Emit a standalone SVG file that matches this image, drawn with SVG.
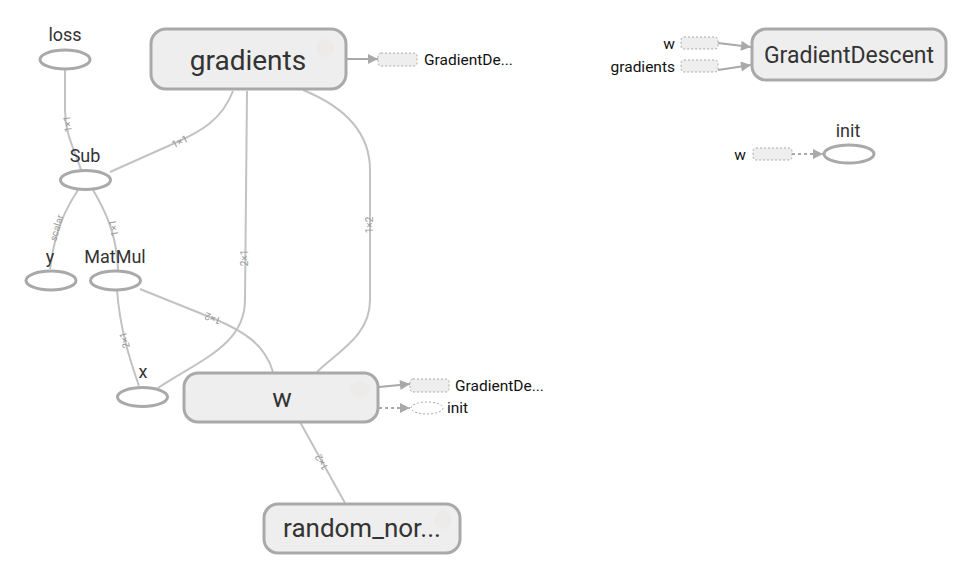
<svg xmlns="http://www.w3.org/2000/svg" width="967" height="575" viewBox="0 0 967 575">
<style>
.bg{fill:#fff}
.box{fill:#eeeeee;stroke:#a9a9a9;stroke-width:3}
.op{fill:#fff;stroke:#a9a9a9;stroke-width:3}
.ghost{fill:#e9e6e0;opacity:0.35}
.ann{fill:#eeeeee;stroke:#a9a9a9;stroke-width:1;stroke-dasharray:2,2}
.annop{fill:#fff;stroke:#a9a9a9;stroke-width:1;stroke-dasharray:2,2}
.edge{fill:none;stroke:#c2c2c2;stroke-width:2}
.aedge{fill:none;stroke:#a9a9a9;stroke-width:2}
.cedge{fill:none;stroke:#a9a9a9;stroke-width:2;stroke-dasharray:3,3}
.big{font-family:Roboto,"Liberation Sans",sans-serif;fill:#333;text-anchor:middle}
.lbl{font-family:Roboto,"Liberation Sans",sans-serif;fill:#333;font-size:18px;text-anchor:middle}
.sm{font-family:Roboto,"Liberation Sans",sans-serif;fill:#111;font-size:15.5px}
.el{font-family:Roboto,"Liberation Sans",sans-serif;fill:#999;font-size:10px;text-anchor:middle}
</style>
<defs>
<marker id="arr" viewBox="0 0 10 10" refX="10" refY="5" markerWidth="12" markerHeight="10" markerUnits="userSpaceOnUse" orient="auto">
<path d="M0,0 L10,5 L0,10 z" fill="#a9a9a9"/>
</marker>
</defs>
<rect class="bg" x="0" y="0" width="967" height="575"/>
<g id="connectors">
<path class="edge" d="M65,70 L65,110 C65,135 75,150 81,170"/>
<text class="el" transform="translate(68,124) rotate(-97)" dy="3">1×1</text>
<path class="edge" d="M233,91 C222,120 200,132 175,143 L110,172"/>
<text class="el" transform="translate(180,142) rotate(-25)" dy="3">1×1</text>
<path class="edge" d="M247,91 L245,300 C245,345 200,360 158,388"/>
<text class="el" transform="translate(245,258) rotate(-90)" dy="3">2×1</text>
<path class="edge" d="M303,90 C340,105 370,130 370,170 L370,300 C370,335 340,350 317,372"/>
<text class="el" transform="translate(370,225) rotate(-90)" dy="3">1×2</text>
<path class="edge" d="M78,190 C65,210 55,230 50,269"/>
<text class="el" transform="translate(57,228) rotate(-74)" dy="3">scalar</text>
<path class="edge" d="M93,190 C105,210 117,235 118,270"/>
<text class="el" transform="translate(114,228) rotate(-100)" dy="3">1×1</text>
<path class="edge" d="M117,290 C120,330 130,360 139,386"/>
<text class="el" transform="translate(125,340) rotate(-105)" dy="3">2×1</text>
<path class="edge" d="M140,289 L217,320 C245,332 265,345 273,372"/>
<text class="el" transform="translate(213,318) rotate(201)" dy="3">1×2</text>
<path class="edge" d="M300,422 L345,503"/>
<text class="el" transform="translate(322,462) rotate(-119)" dy="3">1×2</text>
<path class="aedge" d="M347,59 L378,59" marker-end="url(#arr)"/>
<path class="aedge" d="M379,387 L410,384" marker-end="url(#arr)"/>
<path class="cedge" d="M379,408 L410,408" marker-end="url(#arr)"/>
<path class="aedge" d="M718,43 L751,47" marker-end="url(#arr)"/>
<path class="aedge" d="M718,70 L751,65" marker-end="url(#arr)"/>
<path class="cedge" d="M792,154 L823,154" marker-end="url(#arr)"/>
</g>
<g id="node-gradients">
<rect class="box" x="151" y="29" width="195" height="60" rx="15"/>
<circle class="ghost" cx="325" cy="48" r="9"/>
<text class="big" x="248" y="70" font-size="28">gradients</text>
<rect class="ann" x="378" y="53" width="39" height="13" rx="3"/>
<text class="sm" x="424" y="65">GradientDe...</text>
</g>
<g id="node-loss">
<ellipse class="op" cx="65" cy="59.5" rx="25" ry="9.5"/>
<text class="lbl" x="65" y="41">loss</text>
</g>
<g id="node-Sub">
<ellipse class="op" cx="85.5" cy="180" rx="25" ry="9.5"/>
<text class="lbl" x="85" y="162">Sub</text>
</g>
<g id="node-y">
<ellipse class="op" cx="51" cy="280.5" rx="25" ry="9.5"/>
<text class="lbl" x="50" y="263">y</text>
</g>
<g id="node-MatMul">
<ellipse class="op" cx="115.5" cy="280.5" rx="25" ry="9.5"/>
<text class="lbl" x="115" y="263">MatMul</text>
</g>
<g id="node-x">
<ellipse class="op" cx="142.5" cy="397" rx="25" ry="9.5"/>
<text class="lbl" x="143" y="378">x</text>
</g>
<g id="node-w">
<rect class="box" x="184" y="373" width="194" height="49" rx="14"/>
<circle class="ghost" cx="360" cy="390" r="9"/>
<text class="big" x="282" y="407" font-size="26">w</text>
<rect class="ann" x="410" y="379" width="39" height="13" rx="3"/>
<text class="sm" x="455" y="391">GradientDe...</text>
<ellipse class="annop" cx="427" cy="408" rx="16" ry="6"/>
<text class="sm" x="447" y="413">init</text>
</g>
<g id="node-random_normal">
<rect class="box" x="264" y="504" width="196" height="49" rx="14"/>
<circle class="ghost" cx="443" cy="520" r="9"/>
<text class="big" x="362" y="537" font-size="26">random_nor...</text>
</g>
<g id="node-GradientDescent">
<rect class="box" x="752" y="29" width="194" height="51" rx="14"/>
<text class="big" x="849" y="63" font-size="23">GradientDescent</text>
<rect class="ann" x="681" y="37" width="37" height="12" rx="3"/>
<text class="sm" x="675" y="49" text-anchor="end">w</text>
<rect class="ann" x="681" y="60" width="37" height="12" rx="3"/>
<text class="sm" x="675" y="72" text-anchor="end">gradients</text>
</g>
<g id="node-init">
<ellipse class="op" cx="849" cy="154" rx="25" ry="9"/>
<text class="lbl" x="848" y="137">init</text>
<rect class="ann" x="753" y="148" width="39" height="12" rx="3"/>
<text class="sm" x="746" y="160" text-anchor="end">w</text>
</g>
</svg>
